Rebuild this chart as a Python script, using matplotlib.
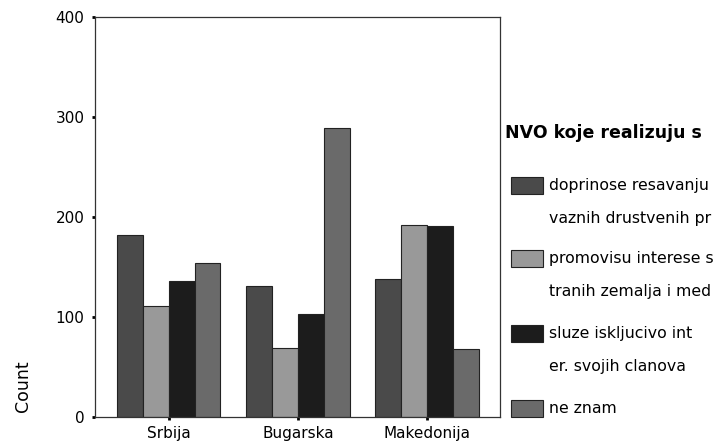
import matplotlib.pyplot as plt
import numpy as np
from matplotlib.patches import Rectangle

countries = ['Srbija', 'Bugarska', 'Makedonija']
series_names = ['doprinose resavanju\nvaznih drustvenih pr',
                'promovisu interese s\ntranih zemalja i med',
                'sluze iskljucivo int\ner. svojih clanova',
                'ne znam']
counts = [
    [182, 131, 138],   # doprinose resavanju
    [111, 69, 192],    # promovisu interese
    [136, 103, 191],   # sluze iskljucivo
    [154, 289, 68],    # ne znam
]
colors = ['#4a4a4a', '#999999', '#1c1c1c', '#6a6a6a']
legend_title = 'NVO koje realizuju s'

plt.rcParams['font.family'] = ['DejaVu Sans']

W, H = 728, 443
fig = plt.figure(figsize=(W / 100, H / 100), dpi=100)
ax = fig.add_axes([95 / W, 1 - 416.7 / H, 404.5 / W, 400 / H])

x = np.arange(len(countries))
bw = 0.2
for i, vals in enumerate(counts):
    ax.bar(x + (i - 1.5) * bw, vals, width=bw, color=colors[i],
           edgecolor='#222222', linewidth=0.8)

ax.set_xlim(-0.57, 2.56)
ax.set_ylim(0, 400)
ax.set_yticks([0, 100, 200, 300, 400])
ax.set_xticks(x)
ax.set_xticklabels(countries, fontsize=11.5)
ax.tick_params(axis='both', direction='out', length=2.5, width=2,
               labelsize=11, color='black')
ax.tick_params(axis='y', pad=5)
ax.tick_params(axis='x', pad=4)
for s in ax.spines.values():
    s.set_linewidth(0.9)
    s.set_color('#333333')

fig.text(23 / W, 1 - 386 / H, 'Count', rotation=90, fontsize=12.5,
         ha='center', va='center')

# legend, drawn by hand to sit like the original
fig.text(505 / W, 1 - 133 / H, legend_title, fontsize=12.5, fontweight='bold',
         ha='left', va='center')
patch_tops = [177, 250, 325, 400]
for i, name in enumerate(series_names):
    top = patch_tops[i]
    fig.patches.append(Rectangle((511 / W, 1 - (top + 16.5) / H), 32 / W, 16.5 / H,
                                 transform=fig.transFigure, facecolor=colors[i],
                                 edgecolor='#222222', linewidth=0.8))
    lines = name.split('\n')
    for j, ln in enumerate(lines):
        fig.text(549 / W, 1 - (top + 8.5 + j * 33) / H, ln, fontsize=11.3,
                 ha='left', va='center')

fig.savefig('out.png', dpi=100)
